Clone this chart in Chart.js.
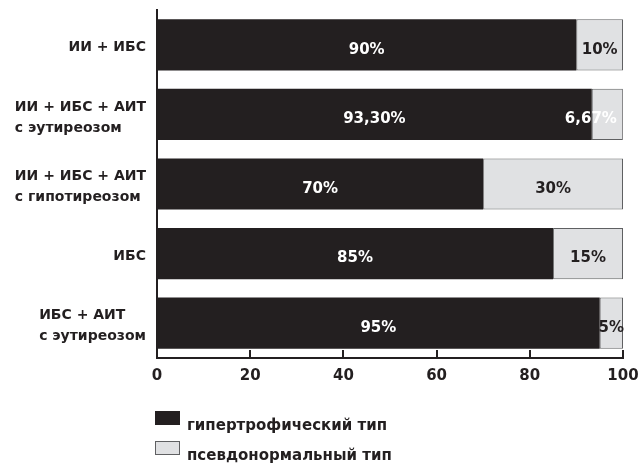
<!DOCTYPE html>
<html>
<head>
<meta charset="utf-8">
<script src="https://cdn.jsdelivr.net/npm/chart.js@4"></script>
<style>
  html, body { margin: 0; padding: 0; background: #ffffff; }
  #wrap { width: 641px; height: 463px; }
</style>
</head>
<body>
<div id="wrap"><canvas id="chart" width="641" height="463"></canvas></div>
<script>
// Группы пациентов (строки подписей оси Y)
const categories = [
  ['ИИ + ИБС'],
  ['ИИ + ИБС + АИТ', 'с эутиреозом'],
  ['ИИ + ИБС + АИТ', 'с гипотиреозом'],
  ['ИБС'],
  ['ИБС + АИТ', 'с эутиреозом']
];

// Доли типов диастолической дисфункции, %
const hypertrophic = [90, 93.3, 70, 85, 95];
const pseudonormal = [10, 6.67, 30, 15, 5];

const seriesNames = ['гипертрофический тип', 'псевдонормальный тип'];
const xTicks = [0, 20, 40, 60, 80, 100];

const INK = '#231f20';
const LIGHT = '#e0e1e3';
const EDGE = '#5f6062';
const FONT = '"DejaVu Sans", sans-serif';

function pct(v) {
  return (Number.isInteger(v) ? String(v) : v.toFixed(2).replace('.', ',')) + '%';
}

// Подписи категорий: блок выровнен вправо, строки внутри блока — влево
const categoryLabels = {
  id: 'categoryLabels',
  afterDraw(chart) {
    const ctx = chart.ctx;
    const ys = chart.scales.y;
    const right = 146;
    const lh = 21;
    ctx.save();
    ctx.font = 'bold 14px ' + FONT;
    ctx.fillStyle = INK;
    ctx.textBaseline = 'middle';
    ctx.textAlign = 'left';
    categories.forEach((lines, i) => {
      const cy = ys.getPixelForValue(i) + 3;
      const w = Math.max(...lines.map(l => ctx.measureText(l).width));
      const y0 = cy - (lines.length - 1) * lh / 2;
      lines.forEach((l, k) => ctx.fillText(l, right - w, y0 + k * lh));
    });
    ctx.restore();
  }
};

// Засечки оси X внутрь области построения
const innerTicks = {
  id: 'innerTicks',
  afterDraw(chart) {
    const ctx = chart.ctx;
    const xs = chart.scales.x;
    const b = chart.chartArea.bottom;
    ctx.save();
    ctx.strokeStyle = INK;
    ctx.lineWidth = 2;
    xTicks.forEach(v => {
      const x = Math.round(xs.getPixelForValue(v));
      ctx.beginPath();
      ctx.moveTo(x, b);
      ctx.lineTo(x, b - 8);
      ctx.stroke();
    });
    ctx.restore();
  }
};

// Значения внутри сегментов
const valueLabels = {
  id: 'valueLabels',
  afterDatasetsDraw(chart) {
    const ctx = chart.ctx;
    ctx.save();
    ctx.font = 'bold 15px ' + FONT;
    ctx.textBaseline = 'middle';
    ctx.textAlign = 'center';
    chart.data.datasets.forEach((ds, di) => {
      const meta = chart.getDatasetMeta(di);
      meta.data.forEach((el, i) => {
        const txt = pct(ds.data[i]);
        const x0 = Math.min(el.base, el.x), x1 = Math.max(el.base, el.x);
        const w = ctx.measureText(txt).width;
        const tooWide = w > (x1 - x0) + 8;
        let cx = (x0 + x1) / 2;
        if (tooWide) cx = x1 - 6 - w / 2;
        ctx.fillStyle = (di === 0 || tooWide) ? '#ffffff' : INK;
        ctx.fillText(txt, cx, el.y + 5);
      });
    });
    ctx.restore();
  }
};

// Легенда столбиком под осью
const stackedLegend = {
  id: 'stackedLegend',
  afterDraw(chart) {
    const ctx = chart.ctx;
    ctx.save();
    ctx.font = 'bold 15px ' + FONT;
    ctx.textBaseline = 'alphabetic';
    ctx.textAlign = 'left';
    chart.data.datasets.forEach((ds, i) => {
      const y = 411 + i * 30;
      ctx.fillStyle = ds.backgroundColor;
      ctx.fillRect(155.5, y + 0.5, 24, 13);
      ctx.strokeStyle = i === 0 ? INK : EDGE;
      ctx.lineWidth = 1;
      ctx.strokeRect(155.5, y + 0.5, 24, 13);
      ctx.fillStyle = INK;
      ctx.fillText(ds.label, 187, y + 19);
    });
    ctx.restore();
  }
};

new Chart(document.getElementById('chart'), {
  type: 'bar',
  data: {
    labels: categories,
    datasets: [
      { label: seriesNames[0], data: hypertrophic, backgroundColor: INK, borderColor: INK, borderWidth: 0 },
      { label: seriesNames[1], data: pseudonormal, backgroundColor: LIGHT, borderColor: EDGE, borderWidth: 1, borderSkipped: false }
    ]
  },
  options: {
    indexAxis: 'y',
    responsive: false,
    animation: false,
    devicePixelRatio: 1,
    layout: { padding: { top: 10, right: 18, left: 0, bottom: 0 } },
    datasets: { bar: { categoryPercentage: 1, barPercentage: 0.735 } },
    plugins: { legend: { display: false }, tooltip: { enabled: false } },
    scales: {
      x: {
        stacked: true,
        min: 0,
        max: 100,
        afterBuildTicks(scale) { scale.ticks = xTicks.map(v => ({ value: v })); },
        afterFit(scale) {
          scale.height = 105;
          scale.paddingLeft = 0;
          scale.paddingRight = 0;
        },
        grid: { display: false, drawTicks: false, tickLength: 0 },
        border: { display: true, color: INK, width: 2 },
        ticks: {
          color: INK,
          padding: 9,
          font: { family: FONT, size: 15, weight: 'bold' },
          maxRotation: 0
        }
      },
      y: {
        stacked: true,
        afterFit(scale) { scale.width = 157; },
        grid: { display: false },
        border: { display: true, color: INK, width: 2 },
        ticks: { display: false }
      }
    }
  },
  plugins: [categoryLabels, innerTicks, valueLabels, stackedLegend]
});
</script>
</body>
</html>
